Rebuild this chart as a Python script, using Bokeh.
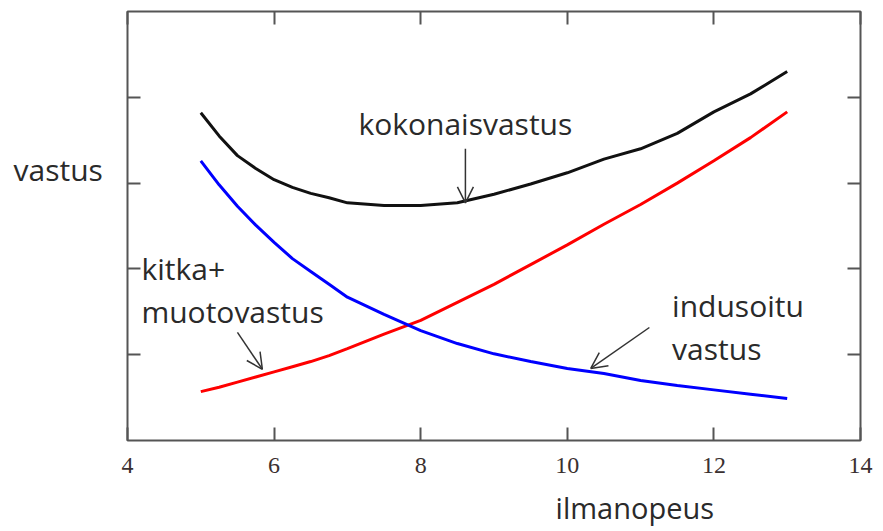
from bokeh.plotting import figure
from bokeh.models import Range1d, LinearAxis, FixedTicker, Label, Arrow, OpenHead
from bokeh.embed import file_html
from bokeh.resources import INLINE

# Air speed and the drag components
speed = [5, 5.25, 5.5, 5.75, 6, 6.25, 6.5, 6.75, 7, 7.5, 8, 8.5, 9, 9.5, 10,
         10.5, 11, 11.5, 12, 12.5, 13]
induced = [3.26, 2.98, 2.73, 2.51, 2.31, 2.12, 1.97, 1.82, 1.67, 1.47, 1.28,
           1.13, 1.01, 0.92, 0.84, 0.78, 0.70, 0.64, 0.59, 0.54, 0.49]
friction_form = [0.57, 0.62, 0.68, 0.74, 0.80, 0.86, 0.92, 0.99, 1.07, 1.24, 1.40,
                 1.61, 1.82, 2.05, 2.28, 2.52, 2.75, 3.00, 3.26, 3.53, 3.83]
total = [3.82, 3.55, 3.32, 3.17, 3.04, 2.95, 2.88, 2.83, 2.77, 2.74, 2.74,
         2.77, 2.87, 2.99, 3.12, 3.28, 3.40, 3.58, 3.83, 4.04, 4.30]

x_ticks = [4, 6, 8, 10, 12, 14]
x_tick_labels = ["4", "6", "8", "10", "12", "14"]
y_ticks = [1, 2, 3, 4]

FRAME = "#555555"
TEXT = "#2a2a2a"
SANS = "Open Sans"
SANS_SIZE = "30px"

p = figure(width=883, height=531, x_range=Range1d(4, 14), y_range=Range1d(0, 5),
           output_backend="svg", toolbar_location=None,
           x_axis_location=None, y_axis_location=None,
           min_border_left=127, min_border_right=23,
           min_border_top=11, min_border_bottom=91)
p.xgrid.visible = False
p.ygrid.visible = False
p.outline_line_color = FRAME
p.outline_line_width = 2
p.background_fill_color = "white"
p.border_fill_color = "white"


def inner_ticks(ticks, labels=None, **kw):
    if labels is None:
        labels = [""] * len(ticks)
        kw.setdefault("major_label_text_font_size", "1px")
    return LinearAxis(ticker=FixedTicker(ticks=ticks),
                      major_label_overrides={t: s for t, s in zip(ticks, labels)},
                      major_tick_in=13, major_tick_out=0,
                      minor_tick_in=0, minor_tick_out=0, axis_line_color=None,
                      major_tick_line_color=FRAME, major_tick_line_width=2, **kw)


p.add_layout(inner_ticks(x_ticks, x_tick_labels, major_label_standoff=17,
                         major_label_text_font="Liberation Serif",
                         major_label_text_font_size="24px",
                         major_label_text_color="#3a3030"), "below")
p.add_layout(inner_ticks(x_ticks, major_label_standoff=0), "above")
p.add_layout(inner_ticks(y_ticks, major_label_standoff=0), "left")
p.add_layout(inner_ticks(y_ticks, major_label_standoff=0), "right")

# curves
p.line(speed, total, line_color="#111111", line_width=3)
p.line(speed, friction_form, line_color="#ff0000", line_width=3)
p.line(speed, induced, line_color="#0000ff", line_width=3)


def text(x, y, s, side=None, size=SANS_SIZE):
    lab = Label(x=x, y=y, text=s, text_font=SANS, text_font_size=size,
                text_color=TEXT, text_align="left", text_baseline="alphabetic")
    if side:
        p.add_layout(lab, side)
    else:
        p.add_layout(lab)


def arrow(x0, y0, x1, y1):
    p.add_layout(Arrow(x_start=x0, y_start=y0, x_end=x1, y_end=y1,
                       line_color="#333333", line_width=1.5,
                       end=OpenHead(size=16, line_color="#333333", line_width=1.5)))


text(7.15, 3.70, "kokonaisvastus")
arrow(8.61, 3.40, 8.61, 2.77)

text(4.19, 2.01, "kitka+")
text(4.19, 1.50, "muotovastus")
arrow(5.50, 1.26, 5.84, 0.83)

text(11.43, 1.57, "indusoitu")
text(11.43, 1.07, "vastus")
arrow(11.12, 1.317, 10.32, 0.84)

# axis titles live in the side panels so they are not clipped by the frame
text(2.445, 3.16, "vastus", "left")
text(9.84, -0.78, "ilmanopeus", "below", "29px")

open("out.html", "w").write(file_html(p, INLINE))
